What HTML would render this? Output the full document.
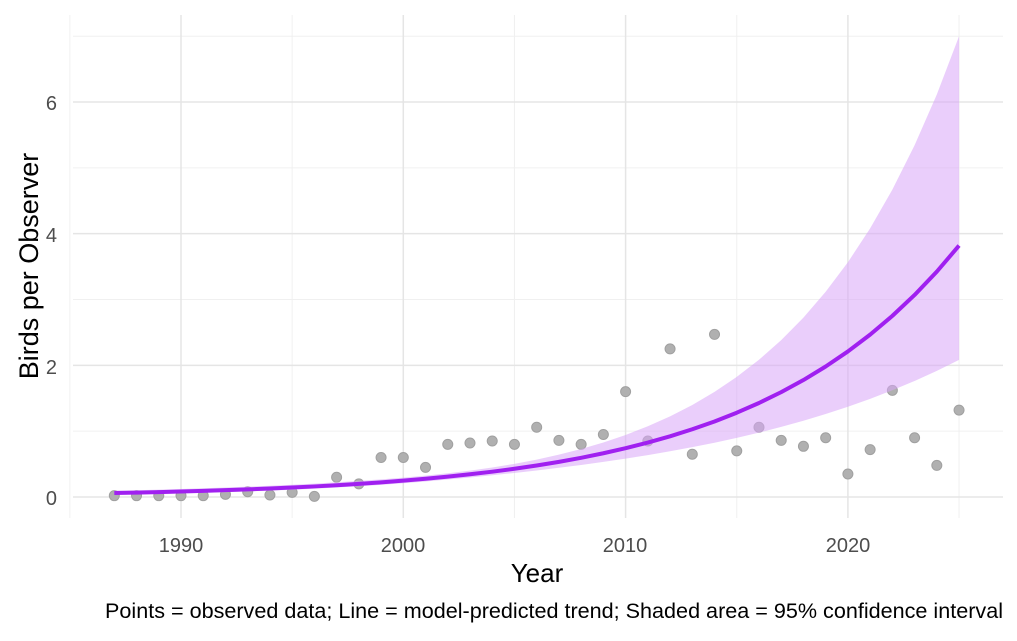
<!DOCTYPE html>
<html><head><meta charset="utf-8"><style>
body{margin:0;background:#fff}
svg text{font-family:"Liberation Sans",sans-serif}
</style></head><body>
<svg id="s" width="1017" height="636" xmlns="http://www.w3.org/2000/svg">
<rect width="1017" height="636" fill="#fff"/>
<g id="grid"></g>
<g id="pts"></g>
<path id="rib" fill="#d9a6f7" fill-opacity="0.55"/>
<polyline id="ln" fill="none" stroke="#a020f0" stroke-width="4" stroke-linejoin="round"/>
<g fill="#4d4d4d" font-size="20" text-anchor="middle">
<text x="181" y="552">1990</text><text x="403" y="552">2000</text><text x="625" y="552">2010</text><text x="848" y="552">2020</text>
</g>
<g fill="#4d4d4d" font-size="20" text-anchor="end">
<text x="57" y="505">0</text><text x="57" y="374">2</text><text x="57" y="242">4</text><text x="57" y="110">6</text>
</g>
<text x="537" y="582" font-size="26" text-anchor="middle" fill="#000">Year</text>
<text transform="translate(38,266) rotate(-90)" font-size="27" text-anchor="middle" fill="#000">Birds per Observer</text>
<text x="1003" y="618" font-size="21" text-anchor="end" fill="#000" textLength="898" lengthAdjust="spacingAndGlyphs">Points = observed data; Line = model-predicted trend; Shaded area = 95% confidence interval</text>
</svg>
<script>
var X=function(t){return 181+(t-1990)*22.23},Y=function(v){return 497-v*65.83};
var g='';
[1985,1995,2005,2015,2025].forEach(function(t){g+='<line x1="'+X(t)+'" x2="'+X(t)+'" y1="15" y2="518" stroke="#f0f0f0" stroke-width="1"/>'});
[1,3,5,7].forEach(function(v){g+='<line x1="73" x2="1003" y1="'+Y(v)+'" y2="'+Y(v)+'" stroke="#f0f0f0" stroke-width="1"/>'});
[1990,2000,2010,2020].forEach(function(t){g+='<line x1="'+X(t)+'" x2="'+X(t)+'" y1="15" y2="518" stroke="#e5e5e5" stroke-width="1.5"/>'});
[0,2,4,6].forEach(function(v){g+='<line x1="73" x2="1003" y1="'+Y(v)+'" y2="'+Y(v)+'" stroke="#e5e5e5" stroke-width="1.5"/>'});
document.getElementById('grid').innerHTML=g;
var d=[.02,.02,.02,.02,.02,.04,.08,.03,.07,.01,.3,.2,.6,.6,.45,.8,.82,.85,.8,1.06,.86,.8,.95,1.6,.85,2.25,.65,2.47,.7,1.06,.86,.77,.9,.35,.72,1.62,.9,.48,1.32];
var p='';d.forEach(function(v,i){p+='<circle cx="'+X(1987+i)+'" cy="'+Y(v)+'" r="5" fill="#b0b0b0" stroke="#a0a0a0" stroke-width="1"/>'});
document.getElementById('pts').innerHTML=p;
var up=[],lo=[],ln=[];
for(var t=1987;t<=2025;t++){var m=0.06*Math.exp(0.1093*(t-1987));var se=Math.sqrt(0.006+0.000185*(t-2003)*(t-2003));
ln.push(X(t)+','+Y(m));up.push(X(t)+','+Y(m*Math.exp(1.96*se)));lo.unshift(X(t)+','+Y(m*Math.exp(-1.96*se)));}
document.getElementById('ln').setAttribute('points',ln.join(' '));
document.getElementById('rib').setAttribute('d','M'+up.join(' L')+' L'+lo.join(' L')+'Z');
</script>
</body></html>
